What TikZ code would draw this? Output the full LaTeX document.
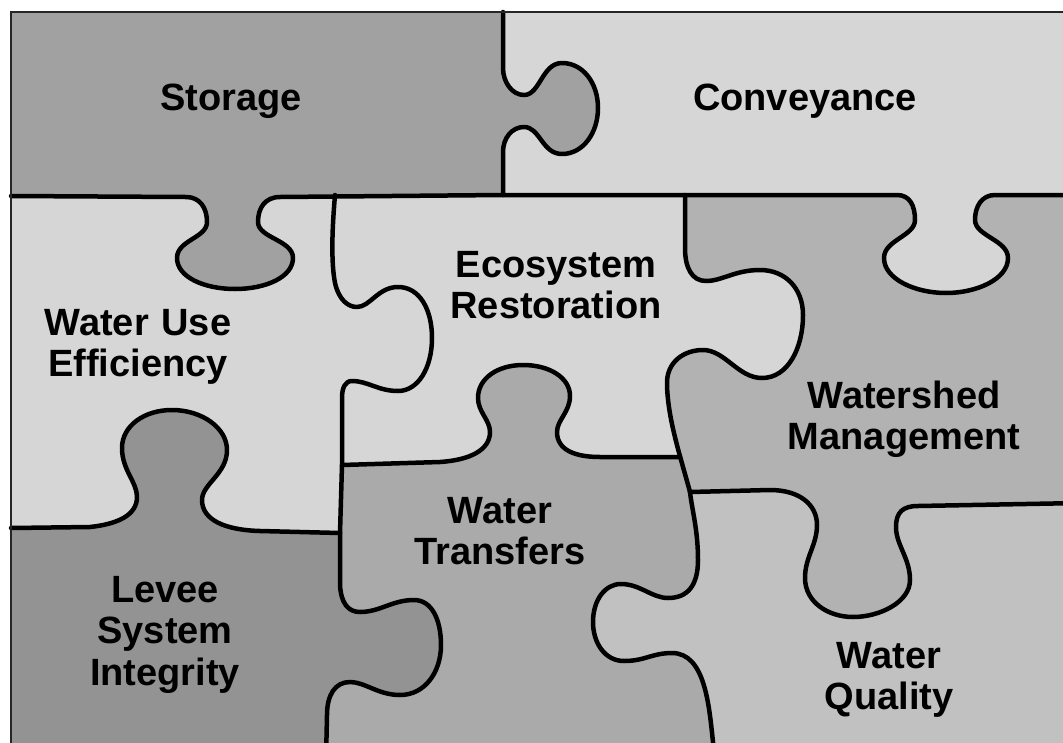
\documentclass[tikz,border=0pt]{standalone}
\usepackage{fontspec}
\setmainfont{Liberation Sans}
\usepackage{tikz}

\definecolor{storagegray}{gray}{0.63}
\definecolor{lightpiece}{gray}{0.84}
\definecolor{shedgray}{gray}{0.70}
\definecolor{transfergray}{gray}{0.665}
\definecolor{qualitygray}{gray}{0.755}
\definecolor{leveegray}{gray}{0.575}

% Kanten der Teile (Pixelkoordinaten, y nach unten)
\newcommand{\storagebottom}{-- (186,197) .. controls (200,197) and (207,208) .. (207,222)
  .. controls (207,238) and (177,240) .. (177,258)
  .. controls (177,277) and (204,289) .. (235,289)
  .. controls (266,289) and (293,277) .. (293,258)
  .. controls (293,240) and (258,238) .. (258,222)
  .. controls (258,208) and (265,197) .. (280,197) -- (503,195)}
\newcommand{\storageright}{-- (503,152) .. controls (503,138) and (512,127) .. (524,127)
  .. controls (540,127) and (542,154) .. (562,154)
  .. controls (583,154) and (598,133) .. (598,108)
  .. controls (598,83) and (583,63) .. (562,63)
  .. controls (542,63) and (540,95) .. (524,95)
  .. controls (512,95) and (503,82) .. (503,68) -- (503,12)}
\newcommand{\conveyancebottom}{-- (897,195) .. controls (910,195) and (915,206) .. (915,220)
  .. controls (915,236) and (884,240) .. (884,258)
  .. controls (884,279) and (915,293) .. (946,293)
  .. controls (977,293) and (1008,279) .. (1008,258)
  .. controls (1008,240) and (975,236) .. (975,220)
  .. controls (975,206) and (982,195) .. (995,195) -- (1080,195)}
\newcommand{\usedivide}{.. controls (332,230) and (331,262) .. (335,283)
  .. controls (339,300) and (348,307) .. (357,307)
  .. controls (370,307) and (378,287) .. (398,287)
  .. controls (420,287) and (432,310) .. (432,338)
  .. controls (432,368) and (418,391) .. (398,391)
  .. controls (378,391) and (368,381) .. (352,381)
  .. controls (345,381) and (342,388) .. (342,398) -- (342,465) -- (340,533)}
\newcommand{\transferstop}{-- (440,462) .. controls (470,460) and (490,450) .. (490,432)
  .. controls (490,420) and (478,412) .. (478,398)
  .. controls (478,378) and (498,365) .. (523,365)
  .. controls (550,365) and (570,378) .. (570,396)
  .. controls (570,412) and (557,420) .. (557,432)
  .. controls (557,450) and (575,457) .. (600,457) -- (680,457)}
\newcommand{\ecoright}{.. controls (680,455) and (668,420) .. (667,385)
  .. controls (666,362) and (684,350) .. (703,350)
  .. controls (725,350) and (738,378) .. (762,378)
  .. controls (788,378) and (803,348) .. (803,315)
  .. controls (803,288) and (785,270) .. (760,270)
  .. controls (735,270) and (722,281) .. (706,281)
  .. controls (692,281) and (685,268) .. (685,248) -- (685,195)}
\newcommand{\shedbottom}{-- (770,490) .. controls (800,490) and (817,505) .. (817,525)
  .. controls (817,545) and (805,557) .. (805,578)
  .. controls (805,602) and (828,617) .. (853,617)
  .. controls (880,617) and (910,602) .. (910,580)
  .. controls (910,558) and (896,545) .. (896,527)
  .. controls (896,512) and (903,506) .. (918,506) -- (1080,503)}
\newcommand{\qualityleft}{-- (713,742) .. controls (709,705) and (705,653) .. (672,653)
  .. controls (652,653) and (645,661) .. (624,661)
  .. controls (605,661) and (593,643) .. (593,622)
  .. controls (593,600) and (605,584) .. (621,584)
  .. controls (640,584) and (652,598) .. (668,598)
  .. controls (688,598) and (698,585) .. (698,560)
  .. controls (698,530) and (692,510) .. (690,492)}
\newcommand{\leveetop}{-- (90,527) .. controls (118,524) and (137,515) .. (137,497)
  .. controls (137,482) and (122,470) .. (122,448)
  .. controls (122,426) and (144,410) .. (172,410)
  .. controls (202,410) and (227,428) .. (227,450)
  .. controls (227,474) and (202,484) .. (202,500)
  .. controls (202,520) and (225,530) .. (260,531) -- (340,533)}
\newcommand{\leveeright}{-- (340,585) .. controls (341,603) and (348,612) .. (360,612)
  .. controls (380,612) and (392,600) .. (414,600)
  .. controls (432,600) and (441,620) .. (441,645)
  .. controls (441,672) and (425,695) .. (400,695)
  .. controls (378,695) and (365,682) .. (350,682)
  .. controls (335,682) and (327,695) .. (327,715) -- (326,760)}

\begin{document}
\begin{tikzpicture}[x=1pt,y=-1pt,
    seam/.style={line width=4.5pt,line join=round,line cap=round},
    puzzleframe/.style={line width=2.5pt,black!85},
    piecename/.style={font=\fontsize{38}{41.5}\selectfont\bfseries,text width=280pt,
      align=center,anchor=base,inner sep=0pt}]
  \useasboundingbox (0,0) rectangle (1063,742);
  \clip (0,0) rectangle (1063,742);
  \fill[white] (0,0) rectangle (1063,742);

  %Flaechen
  \fill[lightpiece] (11,12) rectangle (1080,760);
  \fill[storagegray] (11,196) \storagebottom \storageright -- (11,12) -- cycle;
  \fill[shedgray] (685,195) \conveyancebottom -- (1080,760) -- (705,760) -- (690,492) \ecoright -- cycle;
  \fill[transfergray] (342,465) \transferstop -- (690,492) -- (760,495) -- (760,760) -- (320,760) -- (340,533) -- cycle;
  \fill[qualitygray] (690,492) \shedbottom -- (1080,760) -- (716,760) \qualityleft -- cycle;
  \fill[leveegray] (11,528) \leveetop \leveeright -- (11,760) -- cycle;

  %Fugen
  \draw[seam] (11,196) \storagebottom -- (685,195) \conveyancebottom;
  \draw[seam] (503,195) \storageright;
  \draw[seam] (335,195) \usedivide;
  \draw[seam] (342,465) \transferstop;
  \draw[seam] (690,492) \ecoright;
  \draw[seam] (690,492) \shedbottom;
  \draw[seam] (716,760) \qualityleft;
  \draw[seam] (11,528) \leveetop \leveeright;
  \draw[puzzleframe] (11,760) -- (11,12) -- (1080,12);

  %Beschriftung
  \node[piecename] (storage) at (231,110) {Storage};
  \node[piecename] (conveyance) at (805,110) {Conveyance};
  \node[piecename] (wateruse) at (138,335) {Water Use\\Efficiency};
  \node[piecename] (ecosystem) at (556,277) {Ecosystem\\Restoration};
  \node[piecename] (watershed) at (904,408) {Watershed\\Management};
  \node[piecename] (transfers) at (500,523) {Water\\Transfers};
  \node[piecename] (levee) at (165,602) {Levee\\System\\Integrity};
  \node[piecename] (quality) at (889,668) {Water\\Quality};
\end{tikzpicture}
\end{document}
